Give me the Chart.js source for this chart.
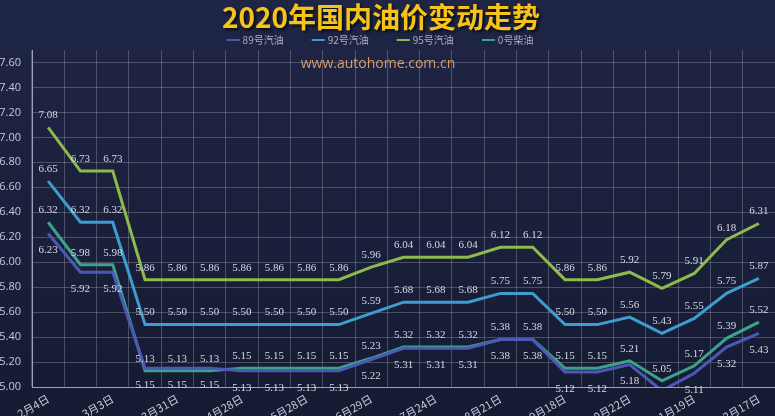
<!DOCTYPE html>
<html>
<head>
<meta charset="utf-8">
<script src="https://cdn.jsdelivr.net/npm/chart.js@4/dist/chart.umd.min.js"></script>
<style>
  html, body { margin: 0; padding: 0; }
  body { background: linear-gradient(#1f2545, #161b33); }
  #wrap { width: 775px; height: 416px; position: relative; }
</style>
</head>
<body>
<div id="wrap"><canvas id="oilChart"></canvas></div>
<script>
// categories: 2020 price adjustment windows
const dates = ["2月4日","2月18日","3月3日","3月17日","3月31日","4月15日","4月28日","5月14日",
               "5月28日","6月11日","6月29日","7月10日","7月24日","8月7日","8月21日","9月4日",
               "9月18日","10月9日","10月22日","11月5日","11月19日","12月3日","12月17日"];

// prices per litre
const oil89 = [6.23,5.92,5.92,5.15,5.15,5.15,5.13,5.13,5.13,5.13,5.22,5.31,5.31,5.31,5.38,5.38,5.12,5.12,5.18,4.97,5.11,5.32,5.43];
const oil92 = [6.65,6.32,6.32,5.50,5.50,5.50,5.50,5.50,5.50,5.50,5.59,5.68,5.68,5.68,5.75,5.75,5.50,5.50,5.56,5.43,5.55,5.75,5.87];
const oil95 = [7.08,6.73,6.73,5.86,5.86,5.86,5.86,5.86,5.86,5.86,5.96,6.04,6.04,6.04,6.12,6.12,5.86,5.86,5.92,5.79,5.91,6.18,6.31];
const oil0  = [6.32,5.98,5.98,5.13,5.13,5.13,5.15,5.15,5.15,5.15,5.23,5.32,5.32,5.32,5.38,5.38,5.15,5.15,5.21,5.05,5.17,5.39,5.52];

const seriesNames = ["89号汽油","92号汽油","95号汽油","0号柴油"];
const yTicks = [5.0,5.2,5.4,5.6,5.8,6.0,6.2,6.4,6.6,6.8,7.0,7.2,7.4,7.6];

const colors = ['#4c58b4','#3d9dcf','#8dba4c','#3aa38a'];
const labelBelow = [true,false,false,false];
const allData = [oil89, oil92, oil95, oil0];

// title, legend, watermark and point values
const decoPlugin = {
  id: 'deco',
  beforeDatasetsDraw(chart) {
    const ctx = chart.ctx;
    ctx.save();
    ctx.font = '14px "Open Sans"';
    ctx.fillStyle = '#dc9a62';
    ctx.textAlign = 'center';
    ctx.textBaseline = 'middle';
    ctx.fillText('www.autohome.com.cn', 378, 64);
    ctx.restore();
  },
  afterDatasetsDraw(chart) {
    const ctx = chart.ctx;
    const yMin = chart.scales.y.min;
    ctx.save();
    ctx.font = '11px "Liberation Serif"';
    ctx.fillStyle = '#d6dae6';
    ctx.textAlign = 'center';
    ctx.textBaseline = 'middle';
    chart.data.datasets.forEach((ds, i) => {
      const meta = chart.getDatasetMeta(i);
      meta.data.forEach((pt, j) => {
        const v = ds.data[j];
        if (v < yMin) return;
        const dy = labelBelow[i] ? 17 : -12;
        ctx.fillText(v.toFixed(2), pt.x, pt.y + dy);
      });
    });
    ctx.restore();
  },
  afterDraw(chart) {
    const ctx = chart.ctx;
    // title
    ctx.save();
    ctx.font = 'bold 28px "Noto Sans CJK SC"';
    ctx.textAlign = 'center';
    ctx.textBaseline = 'middle';
    ctx.shadowColor = 'rgba(0,0,0,0.7)';
    ctx.shadowOffsetX = 2;
    ctx.shadowOffsetY = 2;
    ctx.shadowBlur = 3;
    ctx.fillStyle = '#f6c31a';
    ctx.fillText('2020年国内油价变动走势', 381, 17);
    ctx.restore();

    // legend
    ctx.save();
    ctx.font = '10px "Noto Sans CJK SC"';
    ctx.textBaseline = 'middle';
    const gap = 28, lineW = 13;
    const widths = seriesNames.map(n => lineW + 3 + ctx.measureText(n).width);
    const total = widths.reduce((a, b) => a + b, 0) + gap * (widths.length - 1);
    let x = 380 - total / 2;
    seriesNames.forEach((n, i) => {
      ctx.strokeStyle = colors[i];
      ctx.lineWidth = 2;
      ctx.beginPath();
      ctx.moveTo(x, 40);
      ctx.lineTo(x + lineW, 40);
      ctx.stroke();
      ctx.fillStyle = '#a9adc2';
      ctx.fillText(n, x + lineW + 3, 40);
      x += widths[i] + gap;
    });
    ctx.restore();
  }
};

const config = {
  type: 'line',
  data: {
    labels: dates,
    datasets: allData.map((d, i) => ({
      label: seriesNames[i],
      data: d,
      borderColor: colors[i],
      backgroundColor: colors[i],
      borderWidth: 3,
      pointRadius: 0,
      tension: 0
    }))
  },
  options: {
    responsive: true,
    maintainAspectRatio: false,
    animation: false,
    layout: { padding: { top: 50, left: 0, right: 0, bottom: 0 } },
    plugins: {
      legend: { display: false },
      title: { display: false },
      tooltip: { enabled: false }
    },
    scales: {
      x: {
        offset: true,
        grid: { color: 'rgba(255,255,255,0.22)', drawTicks: false, offset: true },
        border: { color: '#9ea3b8', width: 1 },
        ticks: {
          autoSkip: false,
          minRotation: 30,
          maxRotation: 30,
          padding: 5,
          color: '#c5c9d8',
          font: { size: 11, family: '"Noto Sans CJK SC"' },
          callback: function(val, idx) { return idx % 2 === 0 ? this.getLabelForValue(val) : ''; }
        },
        afterFit: s => { s.height = 29; s.paddingLeft = 0; s.paddingRight = 0; }
      },
      y: {
        min: 5.0,
        max: 7.7,
        grid: { color: 'rgba(255,255,255,0.22)', drawTicks: false },
        border: { color: '#9ea3b8', width: 1 },
        afterBuildTicks: s => { s.ticks = yTicks.map(v => ({ value: v })); },
        ticks: {
          padding: 11,
          color: '#c5c9d8',
          font: { size: 11, family: '"Open Sans"' },
          callback: v => Number(v).toFixed(2)
        },
        afterFit: s => { s.width = 32; }
      }
    }
  },
  plugins: [decoPlugin]
};

new Chart(document.getElementById('oilChart'), config);
</script>
</body>
</html>
